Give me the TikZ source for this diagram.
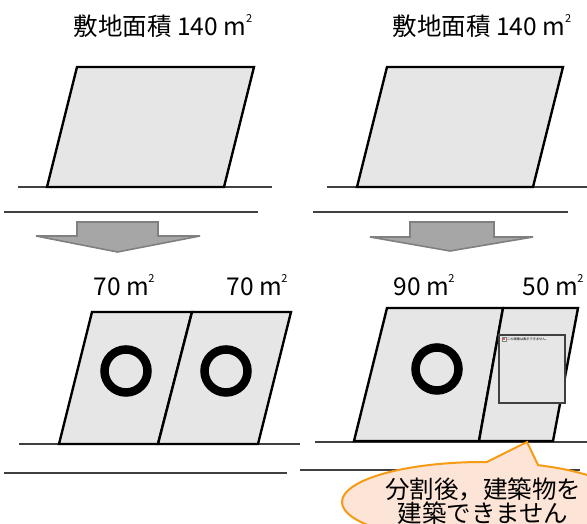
\documentclass[tikz,border=0pt]{standalone}
\usepackage{fontspec}
\usetikzlibrary{calc}
\setmainfont{Noto Sans CJK JP}
\newcommand\sqmeter{m\kern-0.3pt\raisebox{0.52em}{\fontsize{11}{11}\selectfont 2}}
\definecolor{plotgray}{RGB}{230,230,230}
\definecolor{arrowfill}{RGB}{166,166,166}
\definecolor{arrowline}{RGB}{128,128,128}
\definecolor{groundcol}{RGB}{64,64,64}
\definecolor{calloutfill}{RGB}{252,228,214}
\definecolor{calloutline}{RGB}{245,155,20}
\tikzset{
  plot/.style={fill=plotgray, draw=black, line width=2.4pt, line join=miter},
  ground/.style={draw=groundcol, line width=1.3pt},
  bigarrow/.style={fill=arrowfill, draw=arrowline, line width=1.6pt, line join=miter},
  ring/.style={draw=black, line width=8.5pt},
  lbl/.style={font=\fontsize{24.5}{26}\selectfont, inner sep=0pt},
  callout/.style={fill=calloutfill, draw=calloutline, line width=2pt, line join=miter},
}
\begin{document}
\begin{tikzpicture}[x=1pt,y=1pt]
\clip (0,0) rectangle (587,524);
\useasboundingbox (0,0) rectangle (587,524);
% ---------- top left ----------
\node[lbl] (t1) at (163,498) {敷地面積 140 \sqmeter};
\draw[ground] (18,337) -- (272,337);
\draw[ground] (4,312) -- (258,312);
\draw[plot] (77,457) -- (254,457) -- (224,337) -- (47,337) -- cycle;
\draw[bigarrow] (77,302) -- (158,302) -- (158,288) -- (200,288) -- (117.5,272) -- (36,288) -- (77,288) -- cycle;
% ---------- top right ----------
\node[lbl] (t2) at (482,498) {敷地面積 140 \sqmeter};
\draw[ground] (327,337) -- (587,337);
\draw[ground] (313,312) -- (568,312);
\draw[plot] (387,457) -- (563,457) -- (533,337) -- (357,337) -- cycle;
\draw[bigarrow] (410,302) -- (494,302) -- (494,287) -- (533,287) -- (450,273) -- (370,287) -- (410,287) -- cycle;
% ---------- bottom left ----------
\node[lbl] (a1) at (124,239) {70 \sqmeter};
\node[lbl] (a2) at (257,239) {70 \sqmeter};
\draw[ground] (19,80) -- (300,80);
\draw[ground] (4,51) -- (287,51);
\draw[plot] (92,212) -- (192,212) -- (158,80) -- (59,80) -- cycle;
\draw[plot] (192,212) -- (291,212) -- (258,80) -- (158,80) -- cycle;
\draw[ring] (126,153) circle[radius=21.5];
\draw[ring] (226,153) circle[radius=21.5];
% ---------- bottom right ----------
\node[lbl] (b1) at (424,239) {90 \sqmeter};
\node[lbl] (b2) at (553,239) {50 \sqmeter};
\draw[ground] (315,82) -- (587,82);
\draw[ground] (300,54) -- (580,54);
\draw[plot] (387,216) -- (503,216) -- (479,83) -- (354,83) -- cycle;
\draw[plot] (503,216) -- (578,216) -- (553,83) -- (479,83) -- cycle;
\draw[ring] (437,155) circle[radius=21.5];
\draw[fill=plotgray, draw=groundcol, line width=1.2pt] (499,189) rectangle (565,121);
\draw[draw=gray, fill=white, line width=0.3pt] (502,187) rectangle (506,183);
\fill[red!70] (503.2,184.2) rectangle (504.8,185.8);
\node[font=\fontsize{3.2}{3.5}\selectfont, anchor=west, inner sep=0pt] (msg) at (507,185) {この画像は表示できません。};
% ---------- callout ----------
\coordinate (cc) at (483,22);
\coordinate (tip) at (527,82);
\draw[callout] (tip) -- ($(cc)+(67:141 and 40)$) arc[start angle=67, end angle=-271.6, x radius=141, y radius=40] -- cycle;
\node[font=\fontsize{24.5}{24}\selectfont, align=center, inner sep=0pt] (note) at (483,23) {分割後，建築物を\\建築できません};
\end{tikzpicture}
\end{document}
